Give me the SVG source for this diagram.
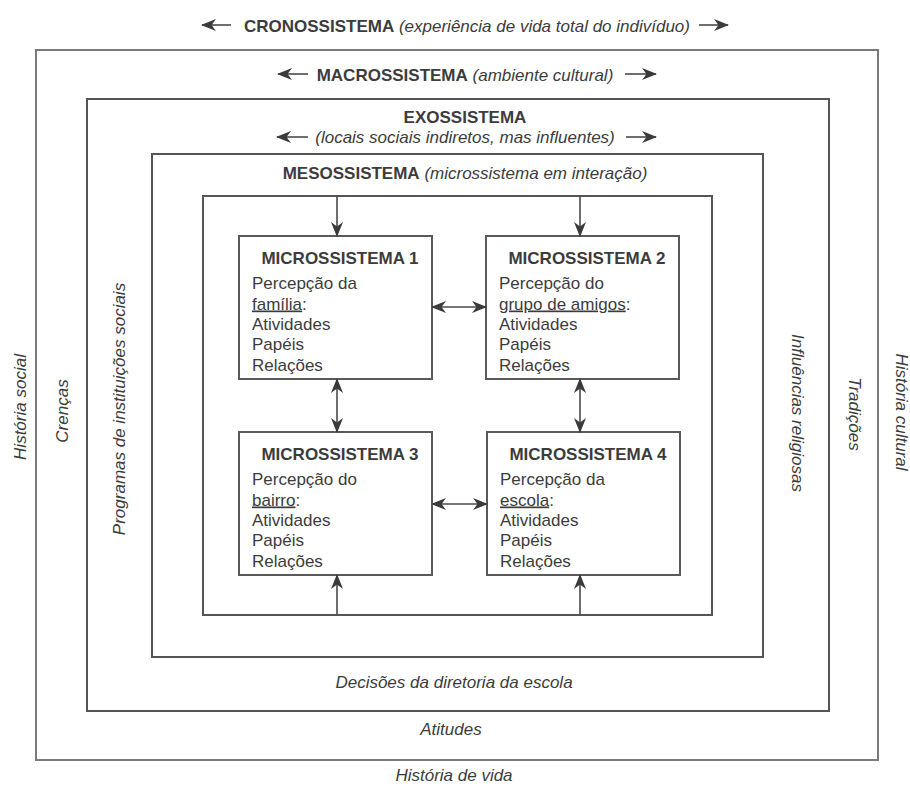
<svg xmlns="http://www.w3.org/2000/svg" width="910" height="787" viewBox="0 0 910 787">
  <style>
    text { font-family: "Liberation Sans", Arial, sans-serif; font-size: 17px; fill: #3c3c3c; }
    .b { font-weight: bold; }
    .i { font-style: italic; }
    .c { text-anchor: middle; }
    .v { text-anchor: middle; dominant-baseline: central; }
    .ring { fill: none; stroke: #555; stroke-width: 2; }
    .ring.outer { stroke: #7a7a7a; }
    .box { fill: #fff; stroke: #5a5a5a; stroke-width: 2; }
    .wire { fill: none; stroke: #4a4a4a; stroke-width: 1.6; }
    .u { text-decoration: underline; }
  </style>
  <defs>
    <marker id="head" viewBox="0 0 15 12" refX="14" refY="6" markerWidth="15" markerHeight="12" markerUnits="userSpaceOnUse" orient="auto-start-reverse">
      <path d="M0,0 L15,6 L0,12 L4.5,6 Z" fill="#3a3a3a"/>
    </marker>
  </defs>

  <rect width="910" height="787" fill="#fff"/>

  <!-- nested system rings -->
  <g id="cronossistema">
    <rect class="ring outer" x="36" y="50" width="842" height="710"/>
    <text class="c" x="467" y="32"><tspan class="b">CRONOSSISTEMA</tspan> <tspan class="i">(experiência de vida total do indivíduo)</tspan></text>
    <text class="v i" transform="translate(20,407) rotate(-90)">História social</text>
    <text class="v i" transform="translate(901,412) rotate(90)">História cultural</text>
    <text class="c i" x="454" y="781">História de vida</text>
  </g>

  <g id="macrossistema">
    <rect class="ring" x="87" y="99" width="742" height="612"/>
    <text class="c" x="465" y="81"><tspan class="b">MACROSSISTEMA</tspan> <tspan class="i">(ambiente cultural)</tspan></text>
    <text class="v i" transform="translate(62,411) rotate(-90)">Crenças</text>
    <text class="v i" transform="translate(854,414) rotate(90)">Tradições</text>
    <text class="c i" x="451" y="735">Atitudes</text>
  </g>

  <g id="exossistema">
    <rect class="ring" x="152" y="154" width="611" height="503"/>
    <text class="c b" x="465" y="123">EXOSSISTEMA</text>
    <text class="c i" x="465" y="143">(locais sociais indiretos, mas influentes)</text>
    <text class="v i" transform="translate(119,409) rotate(-90)">Programas de instituições sociais</text>
    <text class="v i" transform="translate(797,413) rotate(90)">Influências religiosas</text>
    <text class="c i" x="454" y="688">Decisões da diretoria da escola</text>
  </g>

  <g id="mesossistema">
    <rect class="ring" x="203" y="196" width="509" height="419"/>
    <text class="c" x="465" y="179"><tspan class="b">MESOSSISTEMA</tspan> <tspan class="i">(microssistema em interação)</tspan></text>
  </g>

  <!-- the four microsystems -->
  <g id="micro1">
    <rect class="box" x="239" y="236" width="193" height="143"/>
    <text class="c b" x="340" y="264">MICROSSISTEMA 1</text>
    <text x="252" y="289">Percepção da</text>
    <text x="252" y="309.5"><tspan class="u">família</tspan>:</text>
    <text x="252" y="330">Atividades</text>
    <text x="252" y="350">Papéis</text>
    <text x="252" y="370.5">Relações</text>
  </g>

  <g id="micro2">
    <rect class="box" x="486" y="236" width="193" height="143"/>
    <text class="c b" x="587" y="264">MICROSSISTEMA 2</text>
    <text x="499" y="289">Percepção do</text>
    <text x="499" y="309.5"><tspan class="u">grupo de amigos</tspan>:</text>
    <text x="499" y="330">Atividades</text>
    <text x="499" y="350">Papéis</text>
    <text x="499" y="370.5">Relações</text>
  </g>

  <g id="micro3">
    <rect class="box" x="239" y="432" width="193" height="143"/>
    <text class="c b" x="340" y="460">MICROSSISTEMA 3</text>
    <text x="252" y="485">Percepção do</text>
    <text x="252" y="505.5"><tspan class="u">bairro</tspan>:</text>
    <text x="252" y="526">Atividades</text>
    <text x="252" y="546">Papéis</text>
    <text x="252" y="566.5">Relações</text>
  </g>

  <g id="micro4">
    <rect class="box" x="487" y="432" width="193" height="143"/>
    <text class="c b" x="588" y="460">MICROSSISTEMA 4</text>
    <text x="500" y="485">Percepção da</text>
    <text x="500" y="505.5"><tspan class="u">escola</tspan>:</text>
    <text x="500" y="526">Atividades</text>
    <text x="500" y="546">Papéis</text>
    <text x="500" y="566.5">Relações</text>
  </g>

  <!-- connectors -->
  <g id="connectors" class="wire" marker-end="url(#head)">
    <!-- heading arrows -->
    <line x1="231" y1="25" x2="202" y2="25"/>
    <line x1="699" y1="25" x2="728" y2="25"/>
    <line x1="308" y1="74" x2="278" y2="74"/>
    <line x1="625" y1="74" x2="656" y2="74"/>
    <line x1="308" y1="137" x2="277" y2="137"/>
    <line x1="626" y1="137" x2="656" y2="137"/>
    <!-- mesosystem into microsystems -->
    <line x1="337" y1="196" x2="337" y2="236"/>
    <line x1="580" y1="196" x2="580" y2="236"/>
    <line x1="337" y1="615" x2="337" y2="575"/>
    <line x1="580" y1="615" x2="580" y2="575"/>
    <!-- exchanges between microsystems -->
    <line x1="432" y1="307" x2="486" y2="307" marker-start="url(#head)"/>
    <line x1="432" y1="504" x2="487" y2="504" marker-start="url(#head)"/>
    <line x1="337" y1="379" x2="337" y2="432" marker-start="url(#head)"/>
    <line x1="580" y1="379" x2="580" y2="432" marker-start="url(#head)"/>
  </g>
</svg>
